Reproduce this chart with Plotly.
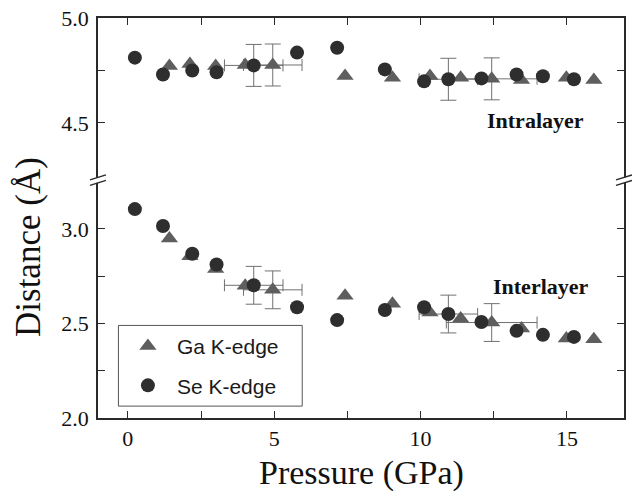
import plotly.graph_objects as go

# ---------------- data ----------------
se_pressure = [0.24, 1.2, 2.2, 3.03, 4.3, 5.78, 7.15, 8.78, 10.12, 10.95, 12.08, 13.28, 14.18, 15.24]
se_intra = [4.811, 4.731, 4.75, 4.741, 4.774, 4.835, 4.858, 4.755, 4.698, 4.708, 4.712, 4.731, 4.722, 4.708]
se_inter = [3.105, 3.016, 2.869, 2.812, 2.702, 2.586, 2.518, 2.571, 2.586, 2.55, 2.508, 2.461, 2.44, 2.429]

ga_pressure = [1.42, 2.12, 3.0, 4.01, 4.95, 7.42, 9.04, 10.32, 11.37, 12.43, 13.45, 14.98, 15.92]
ga_intra = [4.771, 4.781, 4.771, 4.776, 4.776, 4.724, 4.715, 4.724, 4.715, 4.710, 4.705, 4.715, 4.705]
ga_inter = [2.950, 2.856, 2.788, 2.699, 2.678, 2.647, 2.605, 2.558, 2.526, 2.505, 2.474, 2.421, 2.416]

# error bars (index into series, x error, y error)
se_err_idx = [4, 9]
se_err_x = [1.0, 1.0]
se_err_y = [0.1, 0.1]
ga_err_idx = [4, 9]
ga_err_x = [1.0, 1.55]
ga_err_y = [0.1, 0.1]

x_ticks = [0, 5, 10, 15]
x_minor = [2.5, 7.5, 12.5]
low_ticks = [2.0, 2.5, 3.0]
low_minor = [2.25, 2.75]
up_ticks = [4.5, 5.0]
up_minor = [4.75]

series_names = ["Ga K-edge", "Se K-edge"]

# ---------------- style ----------------
W, H = 632, 496
ML, MR, MT, MB = 98, 6, 14, 78
PW, PH = W - ML - MR, H - MT - MB
BREAK_PX = 178
split = (H - MB - BREAK_PX) / PH

SERIF = "Liberation Serif, Times New Roman, serif"
SANS = "Liberation Sans, Arial, sans-serif"
AX = "#2a2a2a"
TRI_C = "#5e5e5e"
CIR_C = "#2e2e2e"
ERR_C = "#707070"

def px_x(px):
    return (px - ML) / PW

def px_y(py):
    return (H - MB - py) / PH

fig = go.Figure()

panels = [("x", "y", se_inter, ga_inter, True), ("x2", "y2", se_intra, ga_intra, False)]

for xa, ya, se_y, ga_y, leg in panels:
    # error bars drawn first (beneath markers)
    for xs, ys, idxs, ex, ey, sym in [
        (ga_pressure, ga_y, ga_err_idx, ga_err_x, ga_err_y, "triangle-up"),
        (se_pressure, se_y, se_err_idx, se_err_x, se_err_y, "circle"),
    ]:
        fig.add_trace(go.Scatter(
            x=[xs[i] for i in idxs], y=[ys[i] for i in idxs],
            mode="markers", xaxis=xa, yaxis=ya, showlegend=False, hoverinfo="skip",
            marker=dict(size=14, symbol=sym, opacity=0),
            error_x=dict(type="data", array=ex, color=ERR_C, thickness=1, width=6),
            error_y=dict(type="data", array=ey, color=ERR_C, thickness=1, width=8),
        ))
    fig.add_trace(go.Scatter(
        x=ga_pressure, y=ga_y, mode="markers", xaxis=xa, yaxis=ya,
        name=series_names[0], showlegend=leg, legendgroup="ga",
        marker=dict(symbol="triangle-up", size=15, color=TRI_C, line=dict(width=0)),
    ))
    fig.add_trace(go.Scatter(
        x=se_pressure, y=se_y, mode="markers", xaxis=xa, yaxis=ya,
        name=series_names[1], showlegend=leg, legendgroup="se",
        marker=dict(symbol="circle", size=14, color=CIR_C, line=dict(width=0)),
    ))

common_x = dict(
    range=[-1.02, 16.95], showline=True, linecolor=AX, linewidth=1.5,
    ticks="inside", ticklen=7, tickwidth=1.2, tickcolor=AX,
    tickvals=x_ticks, showgrid=False, zeroline=False,
    minor=dict(tickvals=x_minor, ticks="inside", ticklen=7, tickwidth=1.2, tickcolor=AX, showgrid=False),
)
common_y = dict(
    showline=True, linecolor=AX, linewidth=1.5, mirror="ticks",
    ticks="inside", ticklen=7, tickwidth=1.2, tickcolor=AX,
    showgrid=False, zeroline=False,
    tickfont=dict(family=SERIF, size=22, color="#111"),
    ticklabelstandoff=3,
)

fig.update_layout(
    width=W, height=H,
    margin=dict(l=ML, r=MR, t=MT, b=MB),
    paper_bgcolor="white", plot_bgcolor="white",
    xaxis=dict(**common_x, anchor="y", side="bottom",
               tickfont=dict(family=SERIF, size=22, color="#111"), ticklabelstandoff=0),
    xaxis2=dict(**common_x, anchor="y2", side="top", matches="x", showticklabels=False),
    yaxis=dict(**common_y, anchor="x", domain=[0, split], range=[2.0, 3.257],
               tickvals=low_ticks, ticktext=[f"{v:.1f}" for v in low_ticks],
               minor=dict(tickvals=low_minor, ticks="inside", ticklen=7, tickwidth=1.2, tickcolor=AX, showgrid=False)),
    yaxis2=dict(**common_y, anchor="x2", domain=[split, 1], range=[4.226, 5.0],
                tickvals=up_ticks, ticktext=[f"{v:.1f}" for v in up_ticks],
                minor=dict(tickvals=up_minor, ticks="inside", ticklen=7, tickwidth=1.2, tickcolor=AX, showgrid=False)),
    legend=dict(
        x=px_x(119), y=px_y(325), xanchor="left", yanchor="top",
        borderwidth=0, bgcolor="rgba(0,0,0,0)",
        font=dict(family=SANS, size=21, color="#1a1a1a"),
        itemwidth=48, tracegroupgap=9, traceorder="grouped",
    ),
    showlegend=True,
)

# legend frame (wider than plotly's auto-sized box, as in the reference)
fig.add_shape(type="rect", xref="paper", yref="paper", layer="above",
              x0=px_x(118.5), x1=px_x(303), y0=px_y(406), y1=px_y(324.5),
              fillcolor="white", line=dict(color="#555", width=1))

# axis titles and panel labels
fig.add_annotation(text="Pressure (GPa)", xref="paper", yref="paper",
                   x=0.5, y=px_y(474), xanchor="center", yanchor="middle",
                   showarrow=False, font=dict(family=SERIF, size=34, color="#111"))
fig.add_annotation(text="Distance (Å)", xref="paper", yref="paper", textangle=-90,
                   x=px_x(28), y=px_y(245), xanchor="center", yanchor="middle",
                   showarrow=False, font=dict(family=SERIF, size=35, color="#111"))
fig.add_annotation(text="<b>Intralayer</b>", xref="paper", yref="paper",
                   x=px_x(537), y=px_y(118), xanchor="center", yanchor="middle",
                   showarrow=False, font=dict(family=SERIF, size=22, color="#111"))
fig.add_annotation(text="<b>Interlayer</b>", xref="paper", yref="paper",
                   x=px_x(543), y=px_y(285), xanchor="center", yanchor="middle",
                   showarrow=False, font=dict(family=SERIF, size=22, color="#111"))

# axis break marks on left and right frame lines
for xa_anchor in [0, 1]:
    fig.add_shape(type="rect", xref="paper", yref="paper", layer="above",
                  xsizemode="pixel", ysizemode="pixel", xanchor=xa_anchor, yanchor=split,
                  x0=-3, x1=3, y0=-2.5, y1=3.0, fillcolor="white", line=dict(width=0))
    for c in [3.0, -2.5]:
        fig.add_shape(type="line", xref="paper", yref="paper", layer="above",
                      xsizemode="pixel", ysizemode="pixel", xanchor=xa_anchor, yanchor=split,
                      x0=-8, x1=8, y0=c - 2.5, y1=c + 2.5, line=dict(color=AX, width=1.5))

fig.write_html("out.html")
